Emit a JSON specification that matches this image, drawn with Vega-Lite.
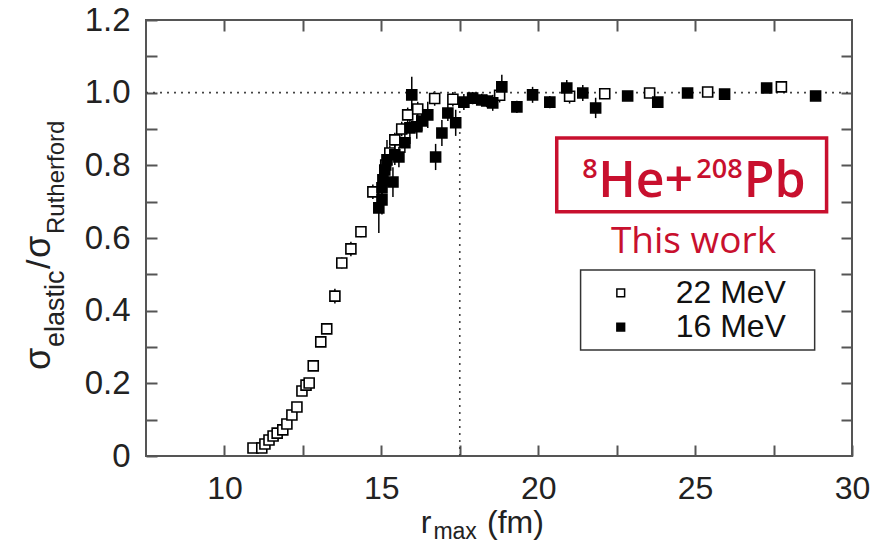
{
  "$schema": "https://vega.github.io/schema/vega-lite/v6.json",
  "width": 706,
  "height": 436,
  "autosize": {"type": "none"},
  "padding": {"left": 146, "top": 20, "right": 34, "bottom": 88},
  "background": "white",
  "config": {
    "view": {"stroke": "#555", "strokeWidth": 2},
    "font": "Liberation Sans"
  },
  "datasets": {
    "pts": [
      {"r": 10.91, "ratio": 0.022, "lo": 0.017, "hi": 0.027, "E": "22 MeV"},
      {"r": 11.19, "ratio": 0.022, "lo": 0.017, "hi": 0.027, "E": "22 MeV"},
      {"r": 11.29, "ratio": 0.033, "lo": 0.028, "hi": 0.038, "E": "22 MeV"},
      {"r": 11.42, "ratio": 0.044, "lo": 0.039, "hi": 0.049, "E": "22 MeV"},
      {"r": 11.55, "ratio": 0.055, "lo": 0.049, "hi": 0.061, "E": "22 MeV"},
      {"r": 11.68, "ratio": 0.063, "lo": 0.057, "hi": 0.069, "E": "22 MeV"},
      {"r": 11.86, "ratio": 0.072, "lo": 0.066, "hi": 0.078, "E": "22 MeV"},
      {"r": 11.99, "ratio": 0.088, "lo": 0.081, "hi": 0.095, "E": "22 MeV"},
      {"r": 12.15, "ratio": 0.113, "lo": 0.105, "hi": 0.121, "E": "22 MeV"},
      {"r": 12.31, "ratio": 0.135, "lo": 0.127, "hi": 0.143, "E": "22 MeV"},
      {"r": 12.47, "ratio": 0.179, "lo": 0.170, "hi": 0.188, "E": "22 MeV"},
      {"r": 12.60, "ratio": 0.195, "lo": 0.186, "hi": 0.204, "E": "22 MeV"},
      {"r": 12.70, "ratio": 0.201, "lo": 0.191, "hi": 0.211, "E": "22 MeV"},
      {"r": 12.83, "ratio": 0.248, "lo": 0.238, "hi": 0.258, "E": "22 MeV"},
      {"r": 13.07, "ratio": 0.314, "lo": 0.302, "hi": 0.326, "E": "22 MeV"},
      {"r": 13.26, "ratio": 0.350, "lo": 0.338, "hi": 0.362, "E": "22 MeV"},
      {"r": 13.52, "ratio": 0.440, "lo": 0.420, "hi": 0.460, "E": "22 MeV"},
      {"r": 13.74, "ratio": 0.531, "lo": 0.516, "hi": 0.546, "E": "22 MeV"},
      {"r": 14.03, "ratio": 0.570, "lo": 0.550, "hi": 0.590, "E": "22 MeV"},
      {"r": 14.35, "ratio": 0.617, "lo": 0.602, "hi": 0.632, "E": "22 MeV"},
      {"r": 14.73, "ratio": 0.727, "lo": 0.707, "hi": 0.747, "E": "22 MeV"},
      {"r": 15.14, "ratio": 0.801, "lo": 0.781, "hi": 0.821, "E": "22 MeV"},
      {"r": 15.27, "ratio": 0.834, "lo": 0.814, "hi": 0.854, "E": "22 MeV"},
      {"r": 15.43, "ratio": 0.870, "lo": 0.850, "hi": 0.890, "E": "22 MeV"},
      {"r": 15.65, "ratio": 0.900, "lo": 0.880, "hi": 0.920, "E": "22 MeV"},
      {"r": 15.84, "ratio": 0.939, "lo": 0.919, "hi": 0.959, "E": "22 MeV"},
      {"r": 16.16, "ratio": 0.955, "lo": 0.935, "hi": 0.975, "E": "22 MeV"},
      {"r": 16.70, "ratio": 0.984, "lo": 0.964, "hi": 1.004, "E": "22 MeV"},
      {"r": 17.28, "ratio": 0.982, "lo": 0.962, "hi": 1.002, "E": "22 MeV"},
      {"r": 18.77, "ratio": 0.993, "lo": 0.973, "hi": 1.013, "E": "22 MeV"},
      {"r": 21.00, "ratio": 0.990, "lo": 0.970, "hi": 1.010, "E": "22 MeV"},
      {"r": 22.12, "ratio": 0.997, "lo": 0.987, "hi": 1.007, "E": "22 MeV"},
      {"r": 23.55, "ratio": 0.999, "lo": 0.989, "hi": 1.009, "E": "22 MeV"},
      {"r": 25.40, "ratio": 1.002, "lo": 0.992, "hi": 1.012, "E": "22 MeV"},
      {"r": 27.75, "ratio": 1.016, "lo": 1.006, "hi": 1.026, "E": "22 MeV"},
      {"r": 14.92, "ratio": 0.683, "lo": 0.614, "hi": 0.752, "E": "16 MeV"},
      {"r": 15.02, "ratio": 0.705, "lo": 0.665, "hi": 0.745, "E": "16 MeV"},
      {"r": 15.05, "ratio": 0.760, "lo": 0.727, "hi": 0.793, "E": "16 MeV"},
      {"r": 15.11, "ratio": 0.787, "lo": 0.759, "hi": 0.815, "E": "16 MeV"},
      {"r": 15.02, "ratio": 0.738, "lo": 0.705, "hi": 0.771, "E": "16 MeV"},
      {"r": 15.18, "ratio": 0.815, "lo": 0.760, "hi": 0.870, "E": "16 MeV"},
      {"r": 15.37, "ratio": 0.754, "lo": 0.713, "hi": 0.795, "E": "16 MeV"},
      {"r": 15.43, "ratio": 0.829, "lo": 0.801, "hi": 0.857, "E": "16 MeV"},
      {"r": 15.56, "ratio": 0.823, "lo": 0.795, "hi": 0.851, "E": "16 MeV"},
      {"r": 15.75, "ratio": 0.862, "lo": 0.834, "hi": 0.890, "E": "16 MeV"},
      {"r": 15.91, "ratio": 0.903, "lo": 0.859, "hi": 0.947, "E": "16 MeV"},
      {"r": 15.97, "ratio": 0.994, "lo": 0.944, "hi": 1.044, "E": "16 MeV"},
      {"r": 16.13, "ratio": 0.906, "lo": 0.873, "hi": 0.939, "E": "16 MeV"},
      {"r": 16.29, "ratio": 0.922, "lo": 0.894, "hi": 0.950, "E": "16 MeV"},
      {"r": 16.48, "ratio": 0.939, "lo": 0.903, "hi": 0.975, "E": "16 MeV"},
      {"r": 16.73, "ratio": 0.823, "lo": 0.787, "hi": 0.859, "E": "16 MeV"},
      {"r": 16.93, "ratio": 0.889, "lo": 0.853, "hi": 0.925, "E": "16 MeV"},
      {"r": 17.12, "ratio": 0.944, "lo": 0.922, "hi": 0.966, "E": "16 MeV"},
      {"r": 17.37, "ratio": 0.917, "lo": 0.881, "hi": 0.953, "E": "16 MeV"},
      {"r": 17.63, "ratio": 0.974, "lo": 0.952, "hi": 0.996, "E": "16 MeV"},
      {"r": 17.91, "ratio": 0.985, "lo": 0.968, "hi": 1.002, "E": "16 MeV"},
      {"r": 18.20, "ratio": 0.980, "lo": 0.963, "hi": 0.997, "E": "16 MeV"},
      {"r": 18.36, "ratio": 0.977, "lo": 0.960, "hi": 0.994, "E": "16 MeV"},
      {"r": 18.55, "ratio": 0.972, "lo": 0.950, "hi": 0.994, "E": "16 MeV"},
      {"r": 18.84, "ratio": 1.016, "lo": 0.983, "hi": 1.049, "E": "16 MeV"},
      {"r": 19.32, "ratio": 0.961, "lo": 0.944, "hi": 0.978, "E": "16 MeV"},
      {"r": 19.82, "ratio": 0.994, "lo": 0.972, "hi": 1.016, "E": "16 MeV"},
      {"r": 20.37, "ratio": 0.974, "lo": 0.957, "hi": 0.991, "E": "16 MeV"},
      {"r": 20.91, "ratio": 1.013, "lo": 0.991, "hi": 1.035, "E": "16 MeV"},
      {"r": 21.42, "ratio": 0.999, "lo": 0.977, "hi": 1.021, "E": "16 MeV"},
      {"r": 21.83, "ratio": 0.958, "lo": 0.930, "hi": 0.986, "E": "16 MeV"},
      {"r": 22.85, "ratio": 0.991, "lo": 0.983, "hi": 0.999, "E": "16 MeV"},
      {"r": 23.81, "ratio": 0.974, "lo": 0.960, "hi": 0.988, "E": "16 MeV"},
      {"r": 24.76, "ratio": 0.999, "lo": 0.991, "hi": 1.007, "E": "16 MeV"},
      {"r": 25.94, "ratio": 0.996, "lo": 0.988, "hi": 1.004, "E": "16 MeV"},
      {"r": 27.28, "ratio": 1.013, "lo": 1.005, "hi": 1.021, "E": "16 MeV"},
      {"r": 28.84, "ratio": 0.991, "lo": 0.983, "hi": 0.999, "E": "16 MeV"}
    ],
    "one": [{}]
  },
  "resolve": {"axis": {"x": "independent", "y": "independent"}},
  "layer": [
    {
      "description": "error bars, carrying the bottom and left axes",
      "data": {"name": "pts"},
      "mark": {"type": "rule", "color": "black", "strokeWidth": 1.5},
      "encoding": {
        "x": {
          "field": "r", "type": "quantitative",
          "scale": {"domain": [7.5, 30], "nice": false, "zero": false},
          "axis": {
            "orient": "bottom", "title": null, "domain": false, "grid": false,
            "values": [10, 12.5, 15, 17.5, 20, 22.5, 25, 27.5, 30],
            "labelExpr": "datum.value % 5 == 0 ? format(datum.value, 'd') : ''",
            "tickSize": -11, "tickWidth": 2, "tickColor": "#555",
            "labelPadding": 28, "labelFontSize": 32, "labelColor": "#222",
            "labelFlush": false, "labelOverlap": false
          }
        },
        "y": {
          "field": "lo", "type": "quantitative",
          "scale": {"domain": [0, 1.2], "nice": false, "zero": false},
          "axis": {
            "orient": "left", "title": null, "domain": false, "grid": false,
            "values": [0, 0.1, 0.2, 0.3, 0.4, 0.5, 0.6, 0.7, 0.8, 0.9, 1.0, 1.1, 1.2],
            "labelExpr": "datum.value == 0 ? '0' : (round(datum.value * 10) % 2 == 0 ? format(datum.value, '.1f') : '')",
            "tickSize": -11, "tickWidth": 2, "tickColor": "#555",
            "labelPadding": 27, "labelFontSize": 33, "labelColor": "#222",
            "labelOverlap": false
          }
        },
        "y2": {"field": "hi"}
      }
    },
    {
      "description": "reference line at unit ratio, carrying the right-hand ticks",
      "data": {"name": "one"},
      "mark": {"type": "rule", "color": "#444", "strokeWidth": 1.6, "strokeDash": [2, 5]},
      "encoding": {
        "x": {"datum": 7.5, "type": "quantitative", "axis": null},
        "x2": {"datum": 30},
        "y": {
          "datum": 1.0, "type": "quantitative",
          "axis": {
            "orient": "right", "title": null, "domain": false, "grid": false, "labels": false,
            "values": [0.1, 0.2, 0.3, 0.4, 0.5, 0.6, 0.7, 0.8, 0.9, 1.0, 1.1],
            "tickSize": -11, "tickWidth": 2, "tickColor": "#555"
          }
        }
      }
    },
    {
      "description": "reference line at r = 17.5 fm, carrying the top ticks",
      "data": {"name": "one"},
      "mark": {"type": "rule", "color": "#444", "strokeWidth": 1.6, "strokeDash": [2, 5]},
      "encoding": {
        "x": {
          "datum": 17.5, "type": "quantitative",
          "axis": {
            "orient": "top", "title": null, "domain": false, "grid": false, "labels": false,
            "values": [10, 12.5, 15, 17.5, 20, 22.5, 25, 27.5],
            "tickSize": -11, "tickWidth": 2, "tickColor": "#555"
          }
        },
        "y": {"datum": 0, "type": "quantitative", "axis": null},
        "y2": {"datum": 1.0}
      }
    },
    {
      "description": "data points: open squares 22 MeV, filled squares 16 MeV",
      "data": {"name": "pts"},
      "mark": {"type": "point", "shape": "square", "size": 100, "filled": true, "stroke": "black", "strokeWidth": 1.6, "opacity": 1},
      "encoding": {
        "x": {"field": "r", "type": "quantitative", "axis": null},
        "y": {"field": "ratio", "type": "quantitative", "axis": null},
        "fill": {
          "field": "E", "type": "nominal",
          "scale": {"domain": ["22 MeV", "16 MeV"], "range": ["white", "black"]},
          "legend": null
        }
      }
    },
    {
      "description": "red frame of the reaction label",
      "data": {"name": "one"},
      "mark": {"type": "rect", "fill": "white", "fillOpacity": 0, "stroke": "#c8102e", "strokeWidth": 3.5},
      "encoding": {
        "x": {"datum": 20.59, "type": "quantitative", "axis": null},
        "x2": {"datum": 29.19},
        "y": {"datum": 0.875, "type": "quantitative", "axis": null},
        "y2": {"datum": 0.672}
      }
    },
    {
      "data": {"name": "one"},
      "mark": {"type": "text", "text": "8", "font": "Open Sans", "fontWeight": 600, "fontSize": 27, "color": "#c8102e", "align": "left", "baseline": "alphabetic"},
      "encoding": {
        "x": {"datum": 21.40, "type": "quantitative", "axis": null},
        "y": {"datum": 0.765, "type": "quantitative", "axis": null}
      }
    },
    {
      "data": {"name": "one"},
      "mark": {"type": "text", "text": "He+", "font": "Open Sans", "fontWeight": 600, "fontSize": 50, "color": "#c8102e", "align": "left", "baseline": "alphabetic"},
      "encoding": {
        "x": {"datum": 21.91, "type": "quantitative", "axis": null},
        "y": {"datum": 0.713, "type": "quantitative", "axis": null}
      }
    },
    {
      "data": {"name": "one"},
      "mark": {"type": "text", "text": "208", "font": "Open Sans", "fontWeight": 600, "fontSize": 27, "color": "#c8102e", "align": "left", "baseline": "alphabetic"},
      "encoding": {
        "x": {"datum": 25.04, "type": "quantitative", "axis": null},
        "y": {"datum": 0.765, "type": "quantitative", "axis": null}
      }
    },
    {
      "data": {"name": "one"},
      "mark": {"type": "text", "text": "Pb", "font": "Open Sans", "fontWeight": 600, "fontSize": 50, "color": "#c8102e", "align": "left", "baseline": "alphabetic"},
      "encoding": {
        "x": {"datum": 26.55, "type": "quantitative", "axis": null},
        "y": {"datum": 0.713, "type": "quantitative", "axis": null}
      }
    },
    {
      "data": {"name": "one"},
      "mark": {"type": "text", "text": "This work", "font": "Open Sans", "fontSize": 37, "color": "#c8102e", "align": "center", "baseline": "alphabetic"},
      "encoding": {
        "x": {"datum": 24.95, "type": "quantitative", "axis": null},
        "y": {"datum": 0.5588, "type": "quantitative", "axis": null}
      }
    },
    {
      "description": "legend frame",
      "data": {"name": "one"},
      "mark": {"type": "rect", "fill": "white", "fillOpacity": 0, "stroke": "#333", "strokeWidth": 1.5},
      "encoding": {
        "x": {"datum": 21.35, "type": "quantitative", "axis": null},
        "x2": {"datum": 28.81},
        "y": {"datum": 0.512, "type": "quantitative", "axis": null},
        "y2": {"datum": 0.292}
      }
    },
    {
      "data": {"name": "one"},
      "mark": {"type": "point", "shape": "square", "size": 60, "filled": true, "fill": "white", "stroke": "black", "strokeWidth": 1.5, "opacity": 1},
      "encoding": {
        "x": {"datum": 22.63, "type": "quantitative", "axis": null},
        "y": {"datum": 0.449, "type": "quantitative", "axis": null}
      }
    },
    {
      "data": {"name": "one"},
      "mark": {"type": "point", "shape": "square", "size": 60, "filled": true, "fill": "black", "stroke": "black", "strokeWidth": 1.5, "opacity": 1},
      "encoding": {
        "x": {"datum": 22.63, "type": "quantitative", "axis": null},
        "y": {"datum": 0.355, "type": "quantitative", "axis": null}
      }
    },
    {
      "data": {"name": "one"},
      "mark": {"type": "text", "text": "22 MeV", "fontSize": 32, "color": "#111", "align": "left", "baseline": "middle"},
      "encoding": {
        "x": {"datum": 24.38, "type": "quantitative", "axis": null},
        "y": {"datum": 0.449, "type": "quantitative", "axis": null}
      }
    },
    {
      "data": {"name": "one"},
      "mark": {"type": "text", "text": "16 MeV", "fontSize": 32, "color": "#111", "align": "left", "baseline": "middle"},
      "encoding": {
        "x": {"datum": 24.38, "type": "quantitative", "axis": null},
        "y": {"datum": 0.355, "type": "quantitative", "axis": null}
      }
    },
    {
      "data": {"name": "one"},
      "mark": {"type": "text", "text": "r", "fontSize": 32, "color": "#222", "align": "left", "baseline": "alphabetic"},
      "encoding": {
        "x": {"datum": 16.26, "type": "quantitative", "axis": null},
        "y": {"datum": -0.2119, "type": "quantitative", "axis": null}
      }
    },
    {
      "data": {"name": "one"},
      "mark": {"type": "text", "text": "max", "fontSize": 23, "color": "#222", "align": "left", "baseline": "alphabetic"},
      "encoding": {
        "x": {"datum": 16.66, "type": "quantitative", "axis": null},
        "y": {"datum": -0.2284, "type": "quantitative", "axis": null}
      }
    },
    {
      "data": {"name": "one"},
      "mark": {"type": "text", "text": "(fm)", "fontSize": 32, "color": "#222", "align": "left", "baseline": "alphabetic"},
      "encoding": {
        "x": {"datum": 18.37, "type": "quantitative", "axis": null},
        "y": {"datum": -0.2119, "type": "quantitative", "axis": null}
      }
    },
    {
      "data": {"name": "one"},
      "mark": {"type": "text", "text": "σ", "fontSize": 36, "color": "#222", "angle": 270, "align": "left", "baseline": "alphabetic"},
      "encoding": {
        "x": {"datum": 4.443, "type": "quantitative", "axis": null},
        "y": {"datum": 0.2367, "type": "quantitative", "axis": null}
      }
    },
    {
      "data": {"name": "one"},
      "mark": {"type": "text", "text": "elastic", "fontSize": 27, "color": "#222", "angle": 270, "align": "left", "baseline": "alphabetic"},
      "encoding": {
        "x": {"datum": 4.889, "type": "quantitative", "axis": null},
        "y": {"datum": 0.300, "type": "quantitative", "axis": null}
      }
    },
    {
      "data": {"name": "one"},
      "mark": {"type": "text", "text": "/", "fontSize": 34, "color": "#222", "angle": 270, "align": "left", "baseline": "alphabetic"},
      "encoding": {
        "x": {"datum": 4.443, "type": "quantitative", "axis": null},
        "y": {"datum": 0.5147, "type": "quantitative", "axis": null}
      }
    },
    {
      "data": {"name": "one"},
      "mark": {"type": "text", "text": "σ", "fontSize": 36, "color": "#222", "angle": 270, "align": "left", "baseline": "alphabetic"},
      "encoding": {
        "x": {"datum": 4.443, "type": "quantitative", "axis": null},
        "y": {"datum": 0.545, "type": "quantitative", "axis": null}
      }
    },
    {
      "data": {"name": "one"},
      "mark": {"type": "text", "text": "Rutherford", "fontSize": 24, "color": "#222", "angle": 270, "align": "left", "baseline": "alphabetic"},
      "encoding": {
        "x": {"datum": 4.889, "type": "quantitative", "axis": null},
        "y": {"datum": 0.611, "type": "quantitative", "axis": null}
      }
    }
  ]
}
